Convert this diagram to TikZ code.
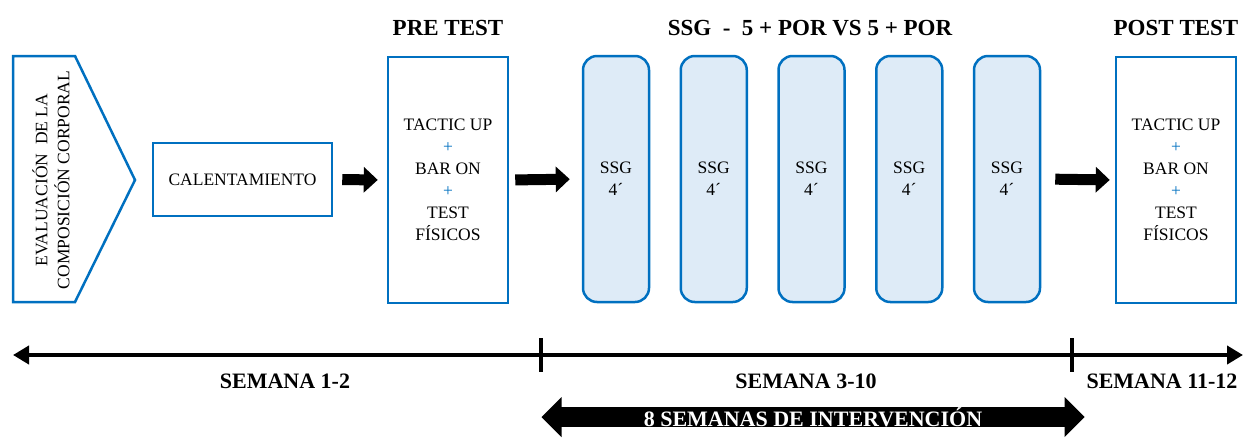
\documentclass[tikz,border=0pt]{standalone}
\usepackage{fontspec}
\setmainfont{Liberation Serif}
\usetikzlibrary{arrows.meta,shapes.arrows}

\definecolor{boxblue}{RGB}{0,112,192}
\definecolor{ssgfill}{RGB}{222,235,247}

\tikzset{
    bodytext/.style={font=\fontsize{17.5}{22}\selectfont, align=center},
    titletext/.style={font=\fontsize{23}{27}\selectfont\bfseries},
    weektext/.style={font=\fontsize{22}{26}\selectfont\bfseries},
    testbox/.style={draw=boxblue, line width=2.5pt, bodytext,
        minimum width=120pt, minimum height=246pt},
    ssgbox/.style={draw=boxblue, fill=ssgfill, line width=2.5pt, bodytext,
        rounded corners=14pt, minimum width=66pt, minimum height=246pt},
    blockarrow/.style={line width=11pt, -{Triangle[length=14pt,width=25pt]}},
}

\newcommand{\bplus}{{\color{boxblue}+}}

\begin{document}
\begin{tikzpicture}[x=1pt, y=-1pt]
    \useasboundingbox (0,0) rectangle (1245,437);

    % evaluacion (chevron)
    \draw[boxblue, line width=2.5pt, line join=miter]
        (13,56) -- (75,56) -- (135,180) -- (75,302) -- (13,302) -- cycle;
    \node[bodytext, rotate=90] (eval) at (51,180)
        {EVALUACIÓN\ \ DE LA\\COMPOSICIÓN CORPORAL};

    % calentamiento y tests
    \node[draw=boxblue, line width=2.5pt, bodytext,
          minimum width=179pt, minimum height=73pt] (cal) at (242.5,179.5)
        {CALENTAMIENTO};
    \node[testbox] (pre) at (448,180)
        {TACTIC UP\\\bplus\\BAR ON\\\bplus\\TEST\\FÍSICOS};
    \node[testbox] (post) at (1176,180)
        {TACTIC UP\\\bplus\\BAR ON\\\bplus\\TEST\\FÍSICOS};

    % juegos reducidos
    \foreach \i in {1,...,5}
        \node[ssgbox] (ssg\i) at ({616+97.75*(\i-1)},179) {SSG\\4´};

    % titulos
    \node[titletext] (pretitle) at (448,28) {PRE TEST};
    \node[titletext] (ssgtitle) at (810,28) {SSG\ \ -\ \ 5 + POR VS 5 + POR};
    \node[titletext] (posttitle) at (1176,28) {POST TEST};

    % flechas
    \draw[blockarrow, shorten <=9pt, shorten >=9pt] (cal.east) -- (pre.west);
    \draw[blockarrow, shorten <=6pt, shorten >=12pt] (pre.east) -- (ssg1.west);
    \draw[blockarrow, shorten <=14pt, shorten >=5pt] (ssg5.east) -- (post.west);

    % linea de tiempo
    \coordinate (tl) at (13,355);
    \coordinate (tr) at (1243,355);
    \coordinate (tick1) at (541,355);
    \coordinate (tick2) at (1072,355);
    \draw[line width=4pt, {Triangle[length=16pt,width=18pt]}-{Triangle[length=16pt,width=18pt]}]
        (tl) -- (tr);
    \draw[line width=4pt] (tick1) ++(0,-17) -- ++(0,34);
    \draw[line width=4pt] (tick2) ++(0,-17) -- ++(0,34);

    \node[weektext] (week1) at (285,381) {SEMANA 1-2};
    \node[weektext] (week2) at (806,381) {SEMANA 3-10};
    \node[weektext] (week3) at (1162,381) {SEMANA 11-12};

    % intervencion
    \node[double arrow, fill=black, text=white, weektext,
          minimum height=543pt, minimum width=40pt, inner ysep=0pt, inner xsep=0pt,
          double arrow head extend=10pt, double arrow head indent=0pt]
        (interv) at (813,417) {8 SEMANAS DE INTERVENCIÓN};
\end{tikzpicture}
\end{document}
